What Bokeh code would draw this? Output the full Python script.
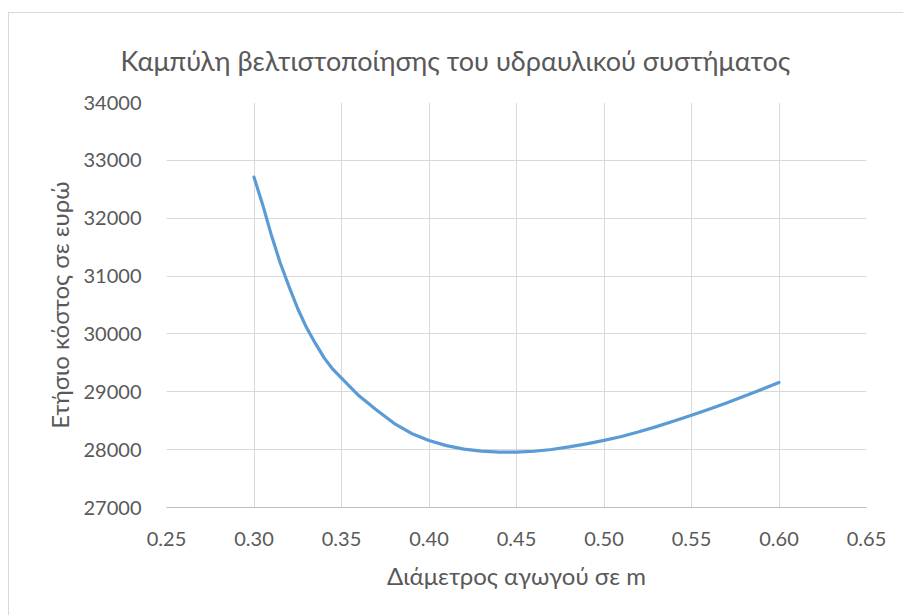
from bokeh.plotting import figure
from bokeh.models import Range1d, FixedTicker, NumeralTickFormatter, Title
from bokeh.embed import file_html
from bokeh.resources import INLINE

# Data
diameter = [0.300, 0.305, 0.310, 0.315, 0.320, 0.325, 0.330, 0.335, 0.340, 0.345,
            0.350, 0.360, 0.370, 0.380, 0.390, 0.400, 0.410, 0.420, 0.430, 0.440,
            0.450, 0.460, 0.470, 0.480, 0.490, 0.500, 0.510, 0.520, 0.530, 0.540,
            0.550, 0.560, 0.570, 0.580, 0.590, 0.600]
annual_cost = [32710, 32230, 31700, 31225, 30820, 30435, 30110, 29840, 29590, 29390,
               29235, 28930, 28685, 28455, 28280, 28157, 28070, 28010, 27975, 27956,
               27958, 27972, 28003, 28047, 28100, 28160, 28228, 28308, 28398, 28495,
               28595, 28700, 28808, 28922, 29040, 29162]

x_ticks = [0.25, 0.30, 0.35, 0.40, 0.45, 0.50, 0.55, 0.60, 0.65]
y_ticks = [27000, 28000, 29000, 30000, 31000, 32000, 33000, 34000]

title_text = "Καμπύλη βελτιστοποίησης του υδραυλικού συστήματος"
x_label = "Διάμετρος αγωγού σε m"
y_label = "Ετήσιο κόστος σε ευρώ"

FONT = "Lato"
TXT = "#595959"
GRID = "#D9D9D9"

p = figure(width=895, height=603, output_backend="svg", toolbar_location=None,
           x_range=Range1d(0.25, 0.65), y_range=Range1d(27000, 34000),
           min_border_left=157, min_border_right=38, min_border_top=89, min_border_bottom=109)
p.margin = (12, 0, 0, 8)
p.styles = {"border-left": "1px solid #D9D9D9", "border-top": "1px solid #D9D9D9"}
p.outline_line_color = None
p.background_fill_color = "white"
p.border_fill_color = "white"

p.title = Title(text=title_text, align="left", text_font=FONT, text_font_size="27px",
                text_color=TXT, text_font_style="normal", standoff=52, offset=-46)

p.line(diameter, annual_cost, line_color="#5B9BD5", line_width=3.2,
       line_cap="round", line_join="round")

p.xaxis.ticker = FixedTicker(ticks=x_ticks)
p.yaxis.ticker = FixedTicker(ticks=y_ticks)
p.xaxis.formatter = NumeralTickFormatter(format="0.00")
p.yaxis.formatter = NumeralTickFormatter(format="0")

for ax in (p.xaxis, p.yaxis):
    ax.major_tick_line_color = None
    ax.minor_tick_line_color = None
    ax.major_tick_out = 0
    ax.major_tick_in = 0
    ax.minor_tick_out = 0
    ax.minor_tick_in = 0
    ax.major_label_text_font = FONT
    ax.major_label_text_font_size = "20px"
    ax.major_label_text_color = TXT
    ax.axis_label_text_font = FONT
    ax.axis_label_text_font_size = "24px"
    ax.axis_label_text_color = TXT
    ax.axis_label_text_font_style = "normal"

p.xaxis.axis_label = x_label
p.yaxis.axis_label = y_label
p.xaxis.axis_line_color = "#BFBFBF"
p.yaxis.axis_line_color = None
p.xaxis.major_label_standoff = 24
p.yaxis.major_label_standoff = 25
p.xaxis.axis_label_standoff = 12
p.yaxis.axis_label_standoff = 7

p.xgrid.grid_line_color = GRID
p.ygrid.grid_line_color = GRID
p.xgrid.grid_line_width = 1
p.ygrid.grid_line_width = 1

open("out.html", "w").write(file_html(p, INLINE))
